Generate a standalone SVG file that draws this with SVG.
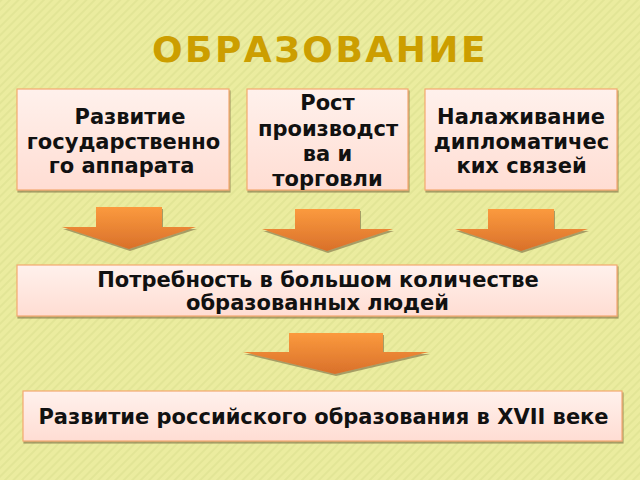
<svg xmlns="http://www.w3.org/2000/svg" width="640" height="480" viewBox="0 0 640 480">
<defs>
<pattern id="stripes" width="6" height="6" patternUnits="userSpaceOnUse" patternTransform="rotate(45)">
<rect width="6" height="6" fill="#EBEC9F"/>
<rect width="2" height="6" fill="#E2E596"/>
</pattern>
<linearGradient id="boxg" x1="0" y1="0" x2="0" y2="1">
<stop offset="0" stop-color="#FFF1EC"/>
<stop offset="1" stop-color="#FFDDD3"/>
</linearGradient>
<linearGradient id="arrg" x1="0" y1="0" x2="0" y2="1">
<stop offset="0" stop-color="#FB9A3E"/>
<stop offset="1" stop-color="#D9702A"/>
</linearGradient>
<filter id="sh" x="-5%" y="-5%" width="115%" height="130%">
<feDropShadow dx="1" dy="2" stdDeviation="0.7" flood-color="#7A6A40" flood-opacity="0.6"/>
</filter>
</defs>
<style>
.box{fill:url(#boxg);stroke:#F4A970;stroke-width:1.2;filter:url(#sh)}
.arr{fill:url(#arrg);filter:url(#sh)}
.t{font-family:"DejaVu Sans",Verdana,sans-serif;font-weight:bold;font-size:21px;fill:#111;text-anchor:middle}
.title{font-family:"DejaVu Sans",Verdana,sans-serif;font-weight:bold;font-size:36px;fill:#CC9E00;text-anchor:middle;letter-spacing:2.5px}
</style>
<rect width="640" height="480" fill="url(#stripes)"/>
<text class="title" x="320" y="62">ОБРАЗОВАНИЕ</text>

<g id="node1">
<rect class="box" x="17" y="89" width="212" height="101"/>
<text class="t" x="130" y="124">Развитие</text>
<text class="t" x="123.5" y="149">государственно</text>
<text class="t" x="121.5" y="173">го аппарата</text>
</g>
<g id="node2">
<rect class="box" x="247" y="89" width="161" height="101"/>
<text class="t" x="327.5" y="110">Рост</text>
<text class="t" x="328" y="136">производст</text>
<text class="t" x="327.5" y="161">ва и</text>
<text class="t" x="327.5" y="186">торговли</text>
</g>
<g id="node3">
<rect class="box" x="425" y="89" width="192" height="101"/>
<text class="t" x="521" y="124">Налаживание</text>
<text class="t" x="521.5" y="149">дипломатичес</text>
<text class="t" x="521.5" y="173">ких связей</text>
</g>
<g id="node4">
<rect class="box" x="17" y="265" width="600" height="51"/>
<text class="t" x="318" y="287">Потребность в большом количестве</text>
<text class="t" x="317.5" y="310">образованных людей</text>
</g>
<g id="node5">
<rect class="box" x="23" y="391" width="599" height="50"/>
<text class="t" x="323.5" y="424">Развитие российского образования в XVII веке</text>
</g>

<g id="connectors">
<polygon class="arr" points="96,207 162,207 162,227 196,227 129,249 62,227 96,227"/>
<polygon class="arr" points="295,209 360,209 360,229 393,229 327,251 262,229 295,229"/>
<polygon class="arr" points="488,209 554,209 554,229 588,229 521,251 455,229 488,229"/>
<polygon class="arr" points="289,333 383,333 383,352 429,352 335,374 243,352 289,352"/>
</g>
</svg>
